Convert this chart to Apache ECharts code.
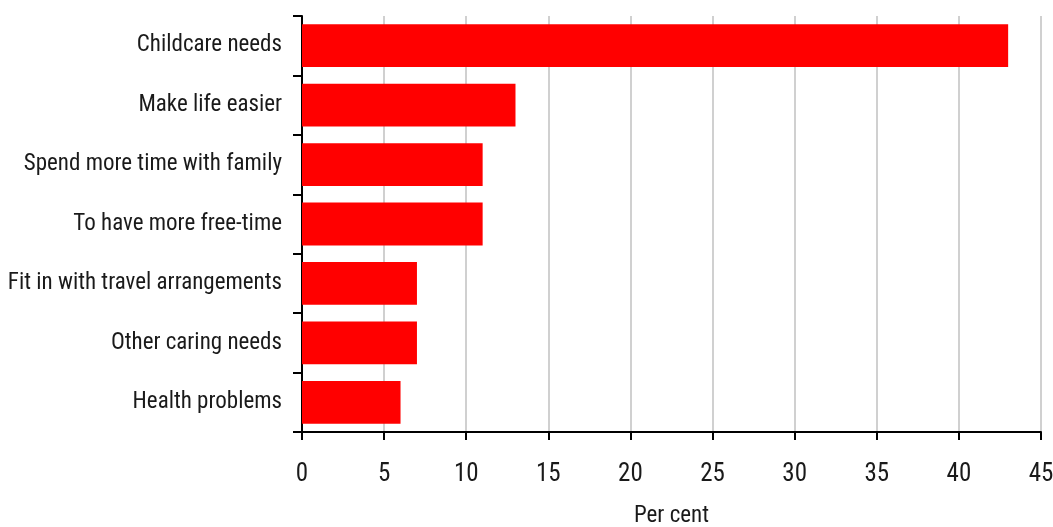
<!DOCTYPE html>
<html><head><meta charset="utf-8">
<script src="https://cdn.jsdelivr.net/npm/echarts@6/dist/echarts.min.js"></script>
<style>html,body{margin:0;padding:0;background:#fff}#c{width:1053px;height:527px}</style>
</head><body><div id="c"></div>
<script>
var categories = ["Childcare needs","Make life easier","Spend more time with family","To have more free-time","Fit in with travel arrangements","Other caring needs","Health problems"];
var values = [43, 13, 11, 11, 7, 7, 6];
var FONT = "Roboto";
var STRETCH = "semi-condensed";
var chart = echarts.init(document.getElementById('c'));
chart.setOption({
  animation: false,
  grid: {left: 302, right: 12, top: 16, bottom: 95, containLabel: false, outerBoundsMode: 'none'},
  xAxis: {
    type: 'value', min: 0, max: 45, interval: 5,
    name: 'Per cent', nameLocation: 'middle', nameGap: 73,
    nameTextStyle: {fontFamily: FONT, fontWeight: STRETCH, fontSize: 23, color: '#1a1a1a'},
    axisLine: {show: true, lineStyle: {color: '#000', width: 2}},
    axisTick: {show: true, length: 8, lineStyle: {color: '#000', width: 2}},
    axisLabel: {fontFamily: FONT, fontWeight: STRETCH, fontSize: 25, color: '#1a1a1a', margin: 30},
    splitLine: {show: true, lineStyle: {color: '#c0c0c0', width: 1.5}}
  },
  yAxis: {
    type: 'category', data: categories, inverse: true,
    axisLine: {show: true, lineStyle: {color: '#000', width: 2}},
    axisTick: {show: true, length: 9, lineStyle: {color: '#000', width: 2}},
    axisLabel: {fontFamily: FONT, fontWeight: STRETCH, fontSize: 23, color: '#1a1a1a', margin: 20, padding: [4, 0, 0, 0]},
    splitLine: {show: false}
  },
  series: [{
    type: 'bar', data: values, barCategoryGap: '28%',
    itemStyle: {color: '#ff0000'}
  }]
});
</script></body></html>
